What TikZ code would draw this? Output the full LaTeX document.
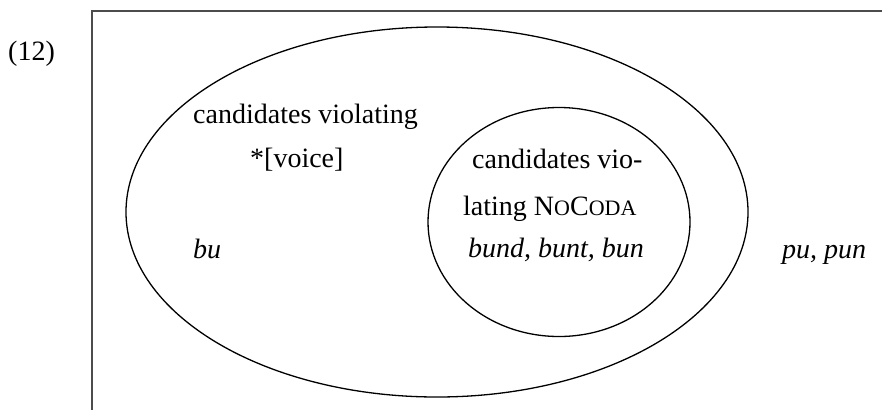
\documentclass[tikz,border=0pt]{standalone}
\usepackage{fontspec}
\setmainfont{Liberation Serif}
\usetikzlibrary{shapes.geometric}
\begin{document}
\begin{tikzpicture}[x=1pt,y=-1pt,
  lbl/.style={anchor=base west,inner sep=0pt,font=\fontsize{28}{34}\selectfont},
  ell/.style={draw=black,line width=1.3pt,ellipse,inner sep=0pt},
  frame/.style={draw=black!70,line width=1.5pt}]
\useasboundingbox (0,0) rectangle (882,410);
\coordinate (fb) at (92,410);
\coordinate (fc) at (92,11);
\coordinate (fr) at (882,11);
\draw[frame] (fb) -- (fc) -- (fr);
\node[ell,minimum width=622pt,minimum height=370pt] (outer) at (437,212) {};
\node[ell,minimum width=262pt,minimum height=229pt] (inner) at (559,222) {};
\node[lbl] (num) at (8,60) {(12)};
\node[lbl] (t1) at (193,123) {candidates violating};
\node[lbl] (t2) at (250,167) {*[voice]};
\node[lbl] (t3) at (472,168) {candidates vio-};
\node[lbl] (t4) at (463,215) {lating N{\fontsize{22}{26}\selectfont O}C{\fontsize{22}{26}\selectfont ODA}};
\node[lbl] (t5) at (468,257) {\itshape bund, bunt, bun};
\node[lbl] (t6) at (193,258) {\itshape bu};
\node[lbl] (t7) at (782,258) {\itshape pu, pun};
\end{tikzpicture}
\end{document}
